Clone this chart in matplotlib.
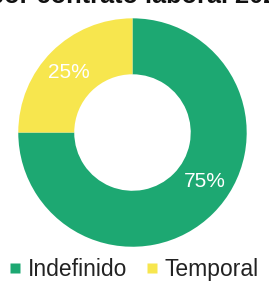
import matplotlib
matplotlib.use("Agg")
import matplotlib.pyplot as plt

categories = ["Indefinido", "Temporal"]
values = [75, 25]
labels = ["75%", "25%"]
colors = ["#1DA872", "#F7E64E"]
title = "Trabajadores por contrato laboral 2022"

plt.rcParams['font.family'] = ['Liberation Sans', 'DejaVu Sans']
fig = plt.figure(figsize=(2.69, 2.82), dpi=100)
ax = fig.add_axes([0.065, 0.125, 0.855, 0.81])
wedges, _ = ax.pie(values, colors=colors, startangle=90, counterclock=False,
                   radius=1.0, wedgeprops=dict(width=0.49, edgecolor='none'))
ax.set_aspect('equal')
ax.set_xlim(-1.0, 1.0)
ax.set_ylim(-1.0, 1.0)
ax.axis('off')

ax.text(0.63, -0.43, labels[0], color='white', fontsize=15, ha='center', va='center')
ax.text(-0.56, 0.53, labels[1], color='white', fontsize=15, ha='center', va='center')

fig.text(1.082, 0.99, title, ha='right', va='baseline', fontsize=18.3, fontweight='bold', color='#111111')

handles = [plt.Line2D([0], [0], marker='s', linestyle='none', markersize=6.5,
                      markerfacecolor=c, markeredgecolor='none') for c in colors]
fig.legend(handles, categories, loc='center', bbox_to_anchor=(0.494, 0.045), ncol=2,
           frameon=False, fontsize=16.5, handletextpad=0.2, columnspacing=0.75,
           handlelength=0.7, labelcolor='#222222')

fig.savefig("out.png", dpi=100, facecolor='white')
